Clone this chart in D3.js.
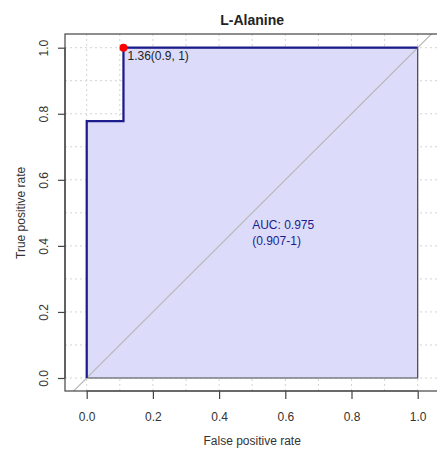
<!DOCTYPE html>
<html>
<head>
<meta charset="utf-8">
<script src="https://cdn.jsdelivr.net/npm/d3@7"></script>
<style>
  body { margin: 0; background: #fff; }
  svg { display: block; font-family: "Liberation Sans", Arial, sans-serif; }
</style>
</head>
<body>
<svg id="chart" width="437" height="451"></svg>
<script>
// ---- data ----
const title = "L-Alanine";
const rocFPR = [0, 0, 0.1111, 0.1111, 1];
const rocTPR = [0, 0.7778, 0.7778, 1, 1];
const bestThreshold = { fpr: 0.1111, tpr: 1, label: "1.36(0.9, 1)" };
const aucLines = ["AUC: 0.975", "(0.907-1)"];
const aucPos = [0.5, 0.45];
const tickValues = [0, 0.2, 0.4, 0.6, 0.8, 1.0];
const gridValues = [0, 0.1, 0.2, 0.3, 0.4, 0.5, 0.6, 0.7, 0.8, 0.9, 1.0];
const xLabel = "False positive rate";
const yLabel = "True positive rate";

// ---- layout ----
const svg = d3.select("#chart");
const x = d3.scaleLinear().domain([0, 1]).range([86.7, 417.7]);
const y = d3.scaleLinear().domain([0, 1]).range([378, 47.7]);
const box = { left: 65, right: 440, top: 34, bottom: 391 };

svg.append("defs").append("clipPath").attr("id", "clip")
  .append("rect").attr("x", box.left).attr("y", box.top)
  .attr("width", box.right - box.left).attr("height", box.bottom - box.top);

const plot = svg.append("g").attr("clip-path", "url(#clip)");

// grid
plot.selectAll("line.gv").data(gridValues).enter().append("line")
  .attr("x1", d => x(d)).attr("x2", d => x(d))
  .attr("y1", box.top).attr("y2", box.bottom)
  .attr("stroke", "#d3d3d3").attr("stroke-width", 1).attr("stroke-dasharray", "2,3");
plot.selectAll("line.gh").data(gridValues).enter().append("line")
  .attr("y1", d => y(d)).attr("y2", d => y(d))
  .attr("x1", box.left).attr("x2", box.right)
  .attr("stroke", "#d3d3d3").attr("stroke-width", 1).attr("stroke-dasharray", "2,3");

// filled polygon
const pts = rocFPR.map((f, i) => [f, rocTPR[i]]);
const poly = pts.concat([[1, 0]]);
plot.append("path")
  .attr("d", d3.line().x(d => x(d[0])).y(d => y(d[1]))(poly) + "Z")
  .attr("fill", "#dcdcfa").attr("fill-opacity", 1)
  .attr("stroke", "#444").attr("stroke-width", 1.2);

// diagonal
plot.append("line")
  .attr("x1", x(-0.2)).attr("y1", y(-0.2))
  .attr("x2", x(1.2)).attr("y2", y(1.2))
  .attr("stroke", "#b8b8b8").attr("stroke-width", 1.2);

// ROC line
plot.append("path")
  .attr("d", d3.line().x(d => x(d[0])).y(d => y(d[1]))(pts))
  .attr("fill", "none").attr("stroke", "#1c1c8c").attr("stroke-width", 2.2);

// threshold point
svg.append("circle")
  .attr("cx", x(bestThreshold.fpr)).attr("cy", y(bestThreshold.tpr))
  .attr("r", 4).attr("fill", "#ff0000");
svg.append("text")
  .attr("x", x(bestThreshold.fpr) + 4).attr("y", y(bestThreshold.tpr) + 12)
  .attr("font-size", 12).attr("fill", "#222")
  .text(bestThreshold.label);

// AUC text
aucLines.forEach((t, i) => {
  svg.append("text")
    .attr("x", x(aucPos[0])).attr("y", y(aucPos[1]) + i * 15.5)
    .attr("font-size", 12).attr("fill", "#1c1c8c")
    .text(t);
});

// box
svg.append("rect")
  .attr("x", box.left).attr("y", box.top)
  .attr("width", box.right - box.left).attr("height", box.bottom - box.top)
  .attr("fill", "none").attr("stroke", "#444").attr("stroke-width", 1.2);

// axes
const xAxis = d3.axisBottom(x).tickValues(tickValues).tickSize(8).tickPadding(13)
  .tickFormat(d3.format(".1f"));
const gx = svg.append("g").attr("transform", `translate(0,${box.bottom})`).call(xAxis);
gx.select(".domain").attr("stroke", "#444").attr("stroke-width", 1.2).attr("d", `M${x(0)},0H${x(1)}`);
gx.selectAll(".tick line").attr("stroke", "#444").attr("stroke-width", 1.2);
gx.selectAll("text").attr("font-size", 12).attr("fill", "#333")
  .attr("font-family", "Liberation Sans, Arial, sans-serif");

const yAxis = d3.axisLeft(y).tickValues(tickValues).tickSize(7).tickFormat(d3.format(".1f"));
const gy = svg.append("g").attr("transform", `translate(${box.left},0)`).call(yAxis);
gy.select(".domain").attr("stroke", "#444").attr("stroke-width", 1.2).attr("d", `M0,${y(0)}V${y(1)}`);
gy.selectAll(".tick line").attr("stroke", "#444").attr("stroke-width", 1.2);
gy.selectAll(".tick text").remove();
gy.selectAll(".tick").append("text")
  .attr("transform", "translate(-21,0) rotate(-90)")
  .attr("text-anchor", "middle").attr("dy", "0.35em")
  .attr("font-size", 12).attr("fill", "#333")
  .attr("font-family", "Liberation Sans, Arial, sans-serif")
  .text(d => d3.format(".1f")(d));

// labels
svg.append("text").attr("x", x(0.5)).attr("y", 24.5)
  .attr("text-anchor", "middle").attr("font-size", 14).attr("font-weight", "bold")
  .attr("fill", "#222").text(title);
svg.append("text").attr("x", x(0.5)).attr("y", 444.5)
  .attr("text-anchor", "middle").attr("font-size", 12).attr("fill", "#333").text(xLabel);
svg.append("text").attr("transform", `translate(25,${y(0.5)}) rotate(-90)`)
  .attr("text-anchor", "middle").attr("font-size", 12).attr("fill", "#333").text(yLabel);
</script>
</body>
</html>
